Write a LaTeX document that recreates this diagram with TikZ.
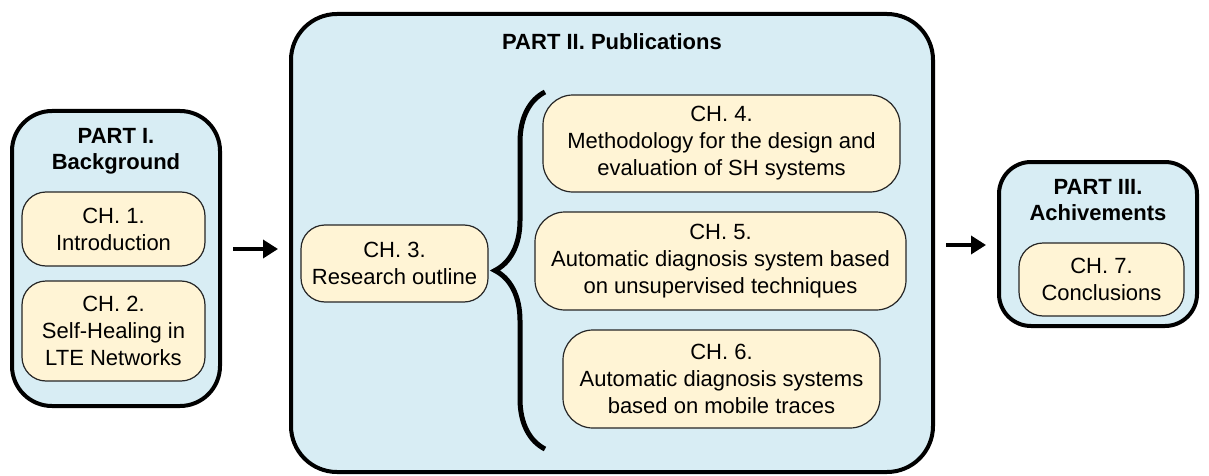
\documentclass[tikz,border=0pt]{standalone}
\usepackage{fontspec}
\setmainfont{Liberation Sans}
\usetikzlibrary{calc, arrows.meta, decorations.pathreplacing}

\definecolor{partblue}{HTML}{D8EDF4}
\definecolor{chapcream}{HTML}{FFF4D5}

\begin{document}
\begin{tikzpicture}[x = 1pt, y = -1pt,
        part/.style = {draw = black, line width = 4pt, fill = partblue, rounded corners = 40pt, inner sep = 0pt},
        chap/.style = {draw = black!85, line width = 1.2pt, fill = chapcream, rounded corners = 24pt, align = center, inner sep = 0pt, font = \fontsize{22}{27}\selectfont},
        title/.style = {align = center, font = \fontsize{22}{26.5}\selectfont\bfseries},
        flow/.style = {-{Triangle[length = 15pt, width = 18pt]}, line width = 3.5pt, shorten < = 11pt, shorten > = 11pt}]
            \useasboundingbox (0, 0) rectangle (1209, 476);

            \coordinate (arrow_a) at (0, 249);
            \coordinate (arrow_b) at (0, 245);
            \coordinate (brace_bottom) at (545, 449);
            \coordinate (brace_top) at (545, 92);

            % part I
            \node[part, minimum width = 208pt, minimum height = 295pt] (part1) at (116, 258.5) {};
            \node[title] (title1) at (116, 151.5) {PART I.\\Background};
            \node[chap, minimum width = 183pt, minimum height = 74pt] (ch1) at (113.5, 229) {CH. 1.\\Introduction};
            \node[chap, minimum width = 183pt, minimum height = 100pt] (ch2) at (113.5, 331) {CH. 2.\\Self-Healing in\\LTE Networks};

            % part II
            \node[part, rounded corners = 46pt, minimum width = 642pt, minimum height = 458pt] (part2) at (612, 243) {};
            \node[title] (title2) at (612, 42) {PART II. Publications};
            \node[chap, minimum width = 187pt, minimum height = 77pt] (ch3) at (394.5, 263.5) {CH. 3.\\Research outline};
            \node[chap, rounded corners = 30pt, minimum width = 357pt, minimum height = 97pt] (ch4) at (721.5, 143.5) {CH. 4.\\Methodology for the design and\\evaluation of SH systems};
            \node[chap, rounded corners = 30pt, minimum width = 371pt, minimum height = 98pt] (ch5) at (720.5, 261) {CH. 5.\\Automatic diagnosis system based\\on unsupervised techniques};
            \node[chap, rounded corners = 30pt, minimum width = 317pt, minimum height = 98pt] (ch6) at (721.5, 379) {CH. 6.\\Automatic diagnosis systems\\based on mobile traces};

            \draw[black, line width = 5pt, decorate, decoration = {brace, amplitude = 50pt}](brace_bottom) -- (brace_top);

            % part III
            \node[part, rounded corners = 32pt, minimum width = 198pt, minimum height = 164pt] (part3) at (1098, 244) {};
            \node[title] (title3) at (1098, 200) {PART III.\\Achivements};
            \node[chap, minimum width = 165pt, minimum height = 73pt] (ch7) at (1101.5, 279.5) {CH. 7.\\Conclusions};

            \draw[flow](part1.east |- arrow_a) -- (part2.west |- arrow_a);
            \draw[flow](part2.east |- arrow_b) -- (part3.west |- arrow_b);
        \end{tikzpicture}
\end{document}
